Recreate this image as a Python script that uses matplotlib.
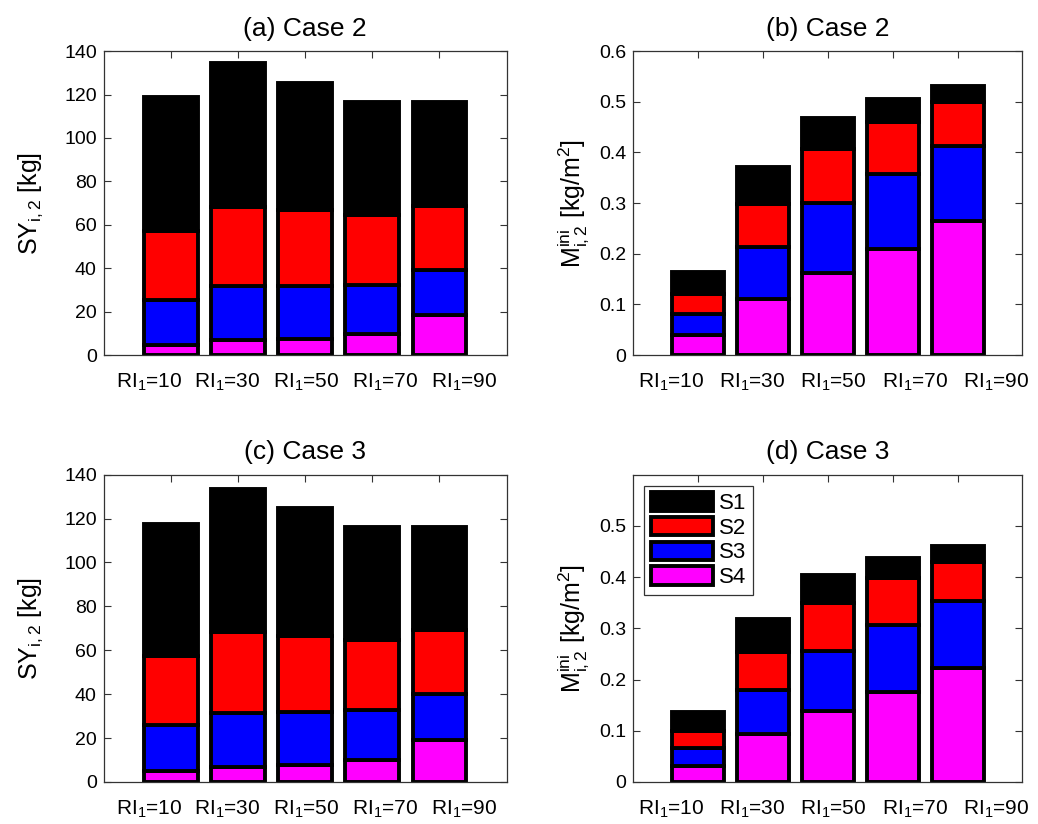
import numpy as np
import matplotlib.pyplot as plt
from matplotlib.patches import Patch

plt.rcParams['font.family'] = ['Liberation Sans', 'DejaVu Sans']
plt.rcParams['mathtext.fontset'] = 'custom'
plt.rcParams['mathtext.rm'] = 'Liberation Sans'
plt.rcParams['mathtext.it'] = 'Liberation Sans'
plt.rcParams['mathtext.bf'] = 'Liberation Sans:bold'

ri_values = [10, 30, 50, 70, 90]
series_names = ["S1", "S2", "S3", "S4"]
series_colors = ["#000000", "#ff0000", "#0000ff", "#ff00ff"]

# segment heights per scenario (bottom layer S4 first in stacking)
# (a) Case 2, SY [kg]
a_s1 = [61.7, 66.4, 58.8, 51.7, 47.5]
a_s2 = [31.6, 36.6, 35.0, 32.2, 29.5]
a_s3 = [20.7, 24.8, 24.3, 22.8, 21.1]
a_s4 = [4.9, 6.9, 7.4, 9.7, 18.3]

# (b) Case 2, M ini [kg/m2]
b_s1 = [0.044, 0.072, 0.060, 0.045, 0.033]
b_s2 = [0.038, 0.085, 0.107, 0.102, 0.087]
b_s3 = [0.043, 0.104, 0.137, 0.149, 0.148]
b_s4 = [0.039, 0.110, 0.163, 0.209, 0.264]

# (c) Case 3, SY [kg]
c_s1 = [60.2, 65.0, 58.1, 51.4, 46.8]
c_s2 = [31.4, 36.8, 34.6, 31.6, 29.0]
c_s3 = [20.9, 24.7, 24.4, 23.1, 21.3]
c_s4 = [5.0, 6.9, 7.6, 9.9, 18.9]

# (d) Case 3, M ini [kg/m2]
d_s1 = [0.038, 0.065, 0.055, 0.040, 0.031]
d_s2 = [0.032, 0.073, 0.094, 0.092, 0.076]
d_s3 = [0.035, 0.087, 0.116, 0.130, 0.132]
d_s4 = [0.032, 0.093, 0.139, 0.176, 0.222]

panels = [
    ("(a) Case 2", [a_s1, a_s2, a_s3, a_s4], r"SY$_{i,2}$ [kg]", 140, np.arange(0, 141, 20)),
    ("(b) Case 2", [b_s1, b_s2, b_s3, b_s4], r"M$_{i,2}^{ini}$ [kg/m$^2$]", 0.6, np.arange(0, 0.61, 0.1)),
    ("(c) Case 3", [c_s1, c_s2, c_s3, c_s4], r"SY$_{i,2}$ [kg]", 140, np.arange(0, 141, 20)),
    ("(d) Case 3", [d_s1, d_s2, d_s3, d_s4], r"M$_{i,2}^{ini}$ [kg/m$^2$]", 0.6, np.arange(0, 0.51, 0.1)),
]

rects = [
    [0.100, 0.569, 0.388, 0.369],
    [0.610, 0.569, 0.375, 0.369],
    [0.100, 0.051, 0.388, 0.373],
    [0.610, 0.051, 0.375, 0.373],
]
ylabel_pads = [14, 6, 14, 6]
# the tick labels are spread a bit wider than the bars in the original
label_spread = [1.175, 1.25, 1.175, 1.25]
label_center = [3.02, 3.09, 3.02, 3.09]

fig = plt.figure(figsize=(10.38, 8.24), dpi=100)
x = np.arange(1, len(ri_values) + 1)
xlabels = [r"RI$_1$=%d" % v for v in ri_values]

for k, (title, data, ylab, ymax, yt) in enumerate(panels):
    ax = fig.add_axes(rects[k])
    bottom = np.zeros(len(x))
    # stack from S4 (bottom) up to S1 (top)
    for j in [3, 2, 1, 0]:
        vals = np.array(data[j])
        ax.bar(x, vals, width=0.8, bottom=bottom, color=series_colors[j],
               edgecolor="black", linewidth=2.8, zorder=2)
        bottom = bottom + vals
    ax.set_xlim(0, 6)
    ax.set_ylim(0, ymax)
    ax.set_xticks(x)
    ax.set_xticklabels([""] * len(x))
    for i, lab in enumerate(xlabels):
        xp = label_center[k] + (x[i] - 3) * label_spread[k]
        ax.text(xp, -0.055, lab, transform=ax.get_xaxis_transform(),
                ha="center", va="top", fontsize=15)
    ax.set_yticks(yt)
    if ymax < 1:
        ax.set_yticklabels(["0" if v == 0 else "%.1f" % v for v in yt], fontsize=14)
    else:
        ax.set_yticklabels(["%d" % v for v in yt], fontsize=14)
    ax.tick_params(direction="in", length=5, top=True, right=True, width=0.8,
                   color="#333333")
    ax.tick_params(axis="y", pad=5)
    for sp in ax.spines.values():
        sp.set_linewidth(0.9)
        sp.set_color("#333333")
    ax.set_title(title, fontsize=19, pad=11)
    ax.set_ylabel(ylab, fontsize=18, labelpad=ylabel_pads[k])

    if k == 3:
        handles = [Patch(facecolor=series_colors[i], edgecolor="black", linewidth=2.8)
                   for i in range(4)]
        leg = ax.legend(handles, series_names, loc="upper left", fontsize=16,
                        fancybox=False, framealpha=1, edgecolor="#333333",
                        handlelength=2.8, handleheight=0.9, handletextpad=0.25,
                        labelspacing=0.12, borderpad=0.3, borderaxespad=0.5)
        leg.get_frame().set_linewidth(0.9)

fig.savefig("out.png", dpi=100)
